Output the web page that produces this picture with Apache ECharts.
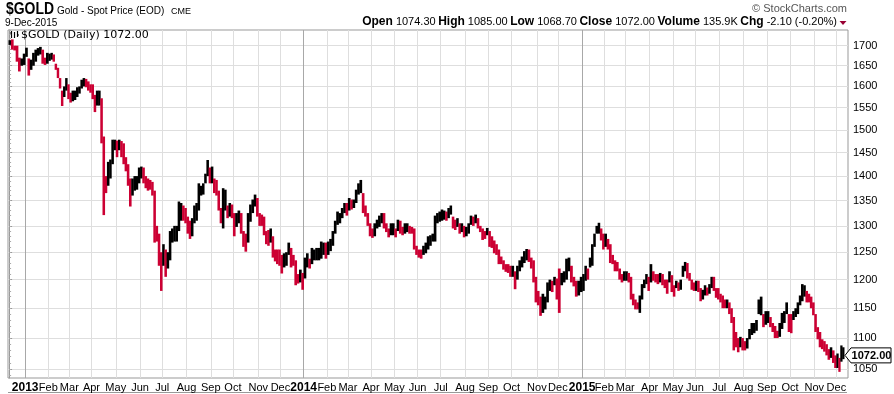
<!DOCTYPE html>
<html><head><meta charset="utf-8">
<script src="https://cdn.jsdelivr.net/npm/echarts@6/dist/echarts.min.js"></script>
<style>html,body{margin:0;padding:0;background:#fff}#c{width:894px;height:394px}</style>
</head><body><div id="c"></div>
<script>
// ---- data ----
const monthLabels = ['', '2013','Feb','Mar','Apr','May','Jun','Jul','Aug','Sep','Oct','Nov','Dec',
  '2014','Feb','Mar','Apr','May','Jun','Jul','Aug','Sep','Oct','Nov','Dec',
  '2015','Feb','Mar','Apr','May','Jun','Jul','Aug','Sep','Oct','Nov','Dec'];
// trading days per month (first = 10-31 Dec 2012, last = 1-9 Dec 2015)
const monthDays = [15, 21,19,20,22,22,20,22,22,20,23,20,21, 21,19,21,21,21,21,22,21,21,23,19,22, 20,19,22,21,20,22,22,21,21,22,20,7];
const lows = [
  [1702,1690,1688,1660,1636,1650,1652],
  [1672,1626,1640,1650,1660,1675,1678,1655,1652,1655],
  [1662,1665,1660,1640,1620,1595,1554,1575,1590,1570],
  [1562,1565,1568,1575,1583,1595,1600,1598,1590,1585],
  [1570,1540,1555,1555,1470,1321,1365,1380,1395,1425,1455],
  [1440,1455,1440,1425,1410,1380,1338,1360,1370,1372,1385],
  [1395,1385,1375,1370,1372,1360,1268,1270,1225,1180],
  [1225,1205,1220,1235,1268,1270,1270,1290,1310,1310,1305],
  [1285,1275,1280,1305,1310,1330,1360,1362,1385,1400,1385],
  [1385,1365,1360,1330,1305,1295,1330,1315,1318,1315],
  [1280,1298,1305,1285,1260,1251,1268,1308,1325,1338,1318],
  [1300,1300,1282,1265,1262,1268,1240,1233,1228,1225],
  [1211,1222,1225,1245,1222,1225,1190,1193,1195,1182],
  [1202,1222,1220,1228,1235,1235,1235,1238,1245,1238],
  [1245,1252,1262,1285,1302,1305,1315,1325,1320],
  [1330,1332,1335,1345,1362,1365,1325,1318,1300,1280],
  [1277,1280,1295,1298,1305,1295,1288,1278,1282,1282],
  [1278,1290,1285,1282,1285,1288,1285,1285,1255,1245],
  [1240,1238,1245,1248,1255,1262,1270,1270,1305,1308],
  [1310,1312,1310,1315,1322,1295,1292,1298,1285,1288,1278],
  [1280,1285,1302,1300,1305,1295,1288,1273,1275,1282],
  [1260,1258,1248,1245,1228,1228,1218,1214,1212,1205],
  [1205,1183,1200,1215,1222,1230,1235,1232,1220,1195,1160],
  [1155,1137,1142,1148,1160,1180,1178,1190,1165],
  [1142,1190,1195,1200,1215,1195,1188,1170,1172,1178],
  [1180,1198,1200,1222,1225,1260,1285,1285,1272,1255],
  [1260,1255,1230,1228,1215,1215,1200,1195,1198],
  [1198,1195,1165,1155,1148,1148,1142,1165,1185,1192,1180],
  [1195,1198,1195,1192,1195,1190,1185,1175,1195,1178],
  [1170,1185,1180,1182,1205,1215,1202,1198,1182,1180],
  [1180,1178,1162,1165,1172,1172,1175,1185,1180,1168,1165],
  [1160,1150,1150,1150,1140,1125,1080,1085,1077,1085,1080],
  [1080,1083,1098,1105,1108,1112,1140,1138,1118,1122],
  [1125,1118,1110,1100,1100,1102,1115,1125,1140,1110],
  [1108,1130,1135,1140,1155,1162,1170,1160,1160,1150,1138],
  [1110,1098,1085,1082,1078,1072,1065,1068,1060,1052],
  [1052,1046,1062,1066]
];
const highs = [
  [1714,1716,1700,1700,1670,1668,1680],
  [1695,1668,1665,1682,1690,1694,1697,1690,1670,1682],
  [1680,1682,1678,1655,1645,1620,1590,1600,1620,1605],
  [1585,1590,1590,1598,1600,1616,1620,1618,1612,1605],
  [1605,1580,1590,1590,1572,1485,1400,1430,1435,1478,1478],
  [1476,1478,1475,1470,1440,1425,1395,1395,1400,1400,1418],
  [1420,1418,1400,1395,1392,1388,1370,1300,1285,1250],
  [1265,1255,1250,1290,1295,1300,1300,1348,1345,1340,1335],
  [1318,1310,1315,1340,1345,1385,1380,1385,1405,1434,1418],
  [1420,1395,1392,1370,1335,1375,1372,1340,1345,1342],
  [1325,1325,1330,1325,1290,1285,1325,1342,1352,1362,1355],
  [1325,1322,1318,1290,1292,1295,1280,1255,1255,1255],
  [1245,1248,1250,1268,1258,1245,1235,1210,1218,1212],
  [1240,1248,1238,1258,1255,1258,1258,1270,1268,1268],
  [1270,1275,1290,1310,1328,1325,1335,1345,1345],
  [1355,1352,1352,1372,1385,1392,1365,1340,1325,1305],
  [1295,1305,1312,1320,1325,1325,1305,1295,1305,1305],
  [1295,1312,1310,1298,1305,1305,1300,1298,1295,1262],
  [1255,1255,1262,1268,1280,1282,1285,1320,1325,1328],
  [1332,1330,1328,1335,1340,1318,1312,1315,1305,1305,1300],
  [1298,1305,1320,1318,1322,1315,1300,1295,1290,1296],
  [1290,1280,1272,1265,1255,1242,1235,1228,1228,1225],
  [1225,1215,1225,1235,1242,1252,1256,1255,1240,1235,1205],
  [1180,1170,1175,1170,1195,1200,1198,1205,1202],
  [1220,1212,1215,1238,1240,1225,1205,1198,1198,1205],
  [1210,1225,1220,1240,1265,1285,1300,1306,1295,1285],
  [1285,1275,1265,1245,1235,1232,1220,1210,1215],
  [1215,1212,1205,1175,1165,1160,1172,1192,1200,1210,1205],
  [1228,1215,1210,1210,1212,1210,1200,1200,1215,1208],
  [1190,1198,1195,1200,1225,1232,1230,1212,1200,1195],
  [1198,1198,1185,1182,1190,1186,1192,1205,1205,1185,1185],
  [1175,1172,1165,1165,1160,1150,1135,1110,1100,1102,1100],
  [1095,1100,1115,1125,1125,1130,1165,1170,1140,1145],
  [1145,1135,1125,1120,1112,1125,1142,1145,1160,1140],
  [1140,1145,1150,1160,1172,1192,1190,1180,1175,1170,1160],
  [1140,1118,1110,1098,1095,1090,1082,1085,1080,1072],
  [1075,1068,1088,1085]
];
const yTicks = [1050,1100,1150,1200,1250,1300,1350,1400,1450,1500,1550,1600,1650,1700];
const lastClose = 1072.00;
const infoLine = [['Open','1074.30'],['High','1085.00'],['Low','1068.70'],['Close','1072.00'],['Volume','135.9K'],['Chg','-2.10 (-0.20%)']];

// ---- build ----
const RED = '#cc0033';
const SANS = '"Liberation Sans",Arial,sans-serif';
let start = 0, prevMid = null;
const bars = [], monthStarts = [];
monthDays.forEach((d, m) => {
  monthStarts.push(start);
  const n = lows[m].length, step = d / n;
  for (let i = 0; i < n; i++) {
    const lo = lows[m][i], hi = highs[m][i], mid = (lo + hi) / 2;
    const down = prevMid !== null && mid < prevMid ? 1 : 0;
    bars.push([start + (i + 0.5) * step - 0.5, Math.log(lo), Math.log(hi), step, down]);
    prevMid = mid;
  }
  start += d;
});
const labelMap = {}, gridVals = [], yearVals = [];
monthStarts.forEach((s, m) => {
  if (m === 0) return;
  labelMap[s] = monthLabels[m];
  gridVals.push(s - 0.5);
  if (/^\d{4}$/.test(monthLabels[m])) yearVals.push(s - 0.5);
});
const yTickVals = yTicks.map(v => Math.log(v));
const minorVals = [];
for (let v = 1040; v <= 1740; v += 10) minorVals.push(Math.log(v));

const chart = echarts.init(document.getElementById('c'), null, {renderer: 'canvas'});
const xMin = -1, xMax = 759;
chart.setOption({
  animation: false,
  grid: {left: 8, right: 46, top: 30, bottom: 16, show: true, borderColor: '#999', borderWidth: 1},
  xAxis: [{
    type: 'value', min: xMin, max: xMax,
    axisLine: {show: false},
    axisTick: {show: false, customValues: gridVals},
    splitLine: {show: true, lineStyle: {color: '#dedede', width: 1}},
    axisLabel: {
      customValues: gridVals, margin: 4, color: '#000', fontSize: 11, fontFamily: SANS,
      showMinLabel: true, showMaxLabel: true, hideOverlap: false,
      formatter: v => { const l = labelMap[Math.round(v + 0.5)] || ''; return /^\d{4}$/.test(l) ? '{y|' + l + '}' : l; },
      rich: {y: {fontWeight: 'bold', fontSize: 12, fontFamily: SANS, color: '#000'}}
    }
  }, {
    type: 'value', min: xMin, max: xMax, position: 'bottom',
    axisLine: {show: false}, axisLabel: {show: false},
    axisTick: {show: false, customValues: yearVals},
    splitLine: {show: true, lineStyle: {color: '#a8a8a8', width: 1}}
  }],
  yAxis: [{
    type: 'value', position: 'right', min: Math.log(1036.5), max: Math.log(1740.2),
    axisLine: {show: true, lineStyle: {color: '#999'}},
    axisTick: {show: true, customValues: yTickVals, length: 3, lineStyle: {color: '#999'}},
    axisLabel: {customValues: yTickVals, formatter: v => String(Math.round(Math.exp(v))), color: '#000', fontSize: 11, fontFamily: SANS, margin: 5, showMinLabel: true, showMaxLabel: true},
    splitLine: {show: true, lineStyle: {color: '#dedede', width: 1}}
  }, {
    type: 'value', position: 'right', min: Math.log(1036.5), max: Math.log(1740.2),
    axisLine: {show: false}, axisLabel: {show: false}, splitLine: {show: false},
    axisTick: {show: true, customValues: minorVals, length: 2, lineStyle: {color: '#aaa'}}
  }],
  series: [{
    type: 'custom', xAxisIndex: 0, yAxisIndex: 0, clip: true,
    encode: {x: 0, y: [1, 2]},
    data: bars,
    renderItem: function (params, api) {
      const x = api.value(0);
      const top = api.coord([x, api.value(2)]);
      const bot = api.coord([x, api.value(1)]);
      const w = api.size([api.value(3), 0])[0];
      return {type: 'rect', shape: {x: top[0] - w / 2, y: top[1], width: w + 0.35, height: Math.max(bot[1] - top[1], 1)},
        style: {fill: api.value(4) ? RED : '#000'}};
    }
  }]
});

// header / annotations
const richInfo = {k: {fontWeight: 'bold', fontSize: 12, fontFamily: SANS, fill: '#000'}, v: {fontSize: 11, fontFamily: SANS, fill: '#000'}, s: {fontSize: 9, fontFamily: SANS}};
const infoText = infoLine.map(p => '{k|' + p[0] + '}{v| ' + p[1] + '}').join('{s| }');
const yLast = chart.convertToPixel({yAxisIndex: 0}, Math.log(lastClose));
const bx = 845;
chart.setOption({graphic: [
  {type: 'text', x: 6, y: 9.5, scaleX: 0.82, style: {text: '$GOLD', font: 'bold 17px ' + SANS, fill: '#000', verticalAlign: 'middle'}},
  {type: 'text', x: 57, y: 11, style: {text: 'Gold - Spot Price (EOD)', font: '10px ' + SANS, fill: '#000', verticalAlign: 'middle'}},
  {type: 'text', x: 171, y: 11.5, style: {text: 'CME', font: '9px ' + SANS, fill: '#000', verticalAlign: 'middle'}},
  {type: 'text', x: 5, y: 23, style: {text: '9-Dec-2015', font: '10px ' + SANS, fill: '#000', verticalAlign: 'middle'}},
  {type: 'text', x: 847, y: 9, style: {text: '\u00A9 StockCharts.com', font: '11px ' + SANS, fill: '#555', align: 'right', verticalAlign: 'middle'}},
  {type: 'text', x: 837, y: 22, style: {text: infoText, rich: richInfo, align: 'right', verticalAlign: 'middle'}},
  {type: 'polygon', shape: {points: [[839.5, 21], [846.5, 21], [843, 25]]}, style: {fill: '#990033'}},
  {type: 'group', children: [
    {type: 'line', shape: {x1: 11.5, y1: 31, x2: 11.5, y2: 38}, style: {stroke: '#000', lineWidth: 1.2}},
    {type: 'line', shape: {x1: 10, y1: 33, x2: 11.5, y2: 33}, style: {stroke: '#000', lineWidth: 1}},
    {type: 'line', shape: {x1: 14.5, y1: 32, x2: 14.5, y2: 38}, style: {stroke: '#000', lineWidth: 1.2}},
    {type: 'line', shape: {x1: 17.5, y1: 31, x2: 17.5, y2: 37}, style: {stroke: '#000', lineWidth: 1.2}},
    {type: 'line', shape: {x1: 17.5, y1: 35, x2: 19, y2: 35}, style: {stroke: '#000', lineWidth: 1}}
  ]},
  {type: 'text', x: 21, y: 35.5, style: {text: '$GOLD (Daily) 1072.00', font: '11px "DejaVu Sans",Verdana,sans-serif', fill: '#000', verticalAlign: 'middle'}},
  {type: 'polygon', shape: {points: [[bx, yLast], [bx + 6, yLast - 7.5], [bx + 46, yLast - 7.5], [bx + 46, yLast + 7.5], [bx + 6, yLast + 7.5]]}, style: {fill: '#fff', stroke: '#000', lineWidth: 1}},
  {type: 'text', x: bx + 26.5, y: yLast + 0.5, style: {text: lastClose.toFixed(2), font: 'bold 11px ' + SANS, fill: '#000', align: 'center', verticalAlign: 'middle'}},
  {type: 'line', shape: {x1: 8, y1: 392.5, x2: 847, y2: 392.5}, style: {stroke: '#999', lineWidth: 1}}
]});
</script></body></html>
